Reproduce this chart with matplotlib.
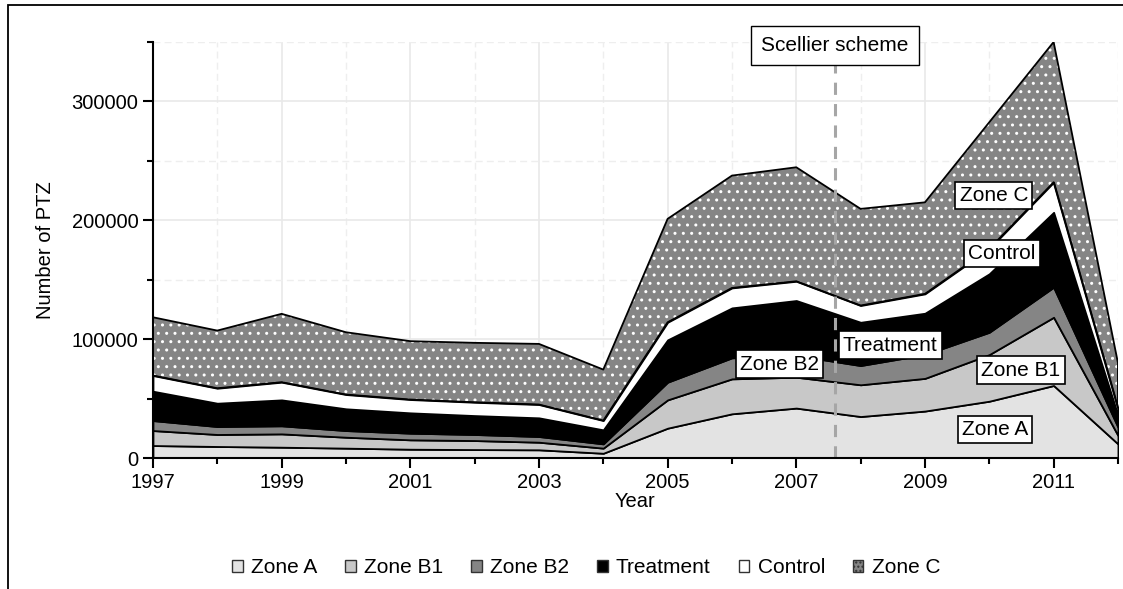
import numpy as np
import matplotlib
matplotlib.use('Agg')
import matplotlib.pyplot as plt
from matplotlib.patches import Patch, Rectangle

plt.rcParams['font.family'] = ['Liberation Sans', 'DejaVu Sans']
plt.rcParams['hatch.color'] = 'white'
plt.rcParams['hatch.linewidth'] = 1.0

# Number of PTZ per zone and year
years = np.arange(1997, 2013)
zone_a = [10500, 9700, 9100, 8300, 7400, 7100, 6900, 4000,
          25100, 37200, 42000, 34900, 39500, 47800, 61000, 11900]
zone_b1 = [12600, 10100, 11200, 9200, 7900, 7600, 6400, 4300,
           23800, 29400, 26000, 26700, 27500, 39200, 57400, 7100]
zone_b2 = [8400, 6700, 6800, 5600, 5600, 5100, 4800, 3600,
           14900, 17700, 18200, 16200, 20000, 18800, 25300, 7000]
treatment = [24700, 19600, 21800, 18300, 17100, 15900, 15700, 11800,
             35600, 42000, 46300, 36400, 34800, 49200, 63000, 10000]
control = [13200, 12600, 14900, 12000, 11200, 11200, 11200, 7800,
           14800, 16800, 16200, 14100, 16300, 21000, 25300, 6000]
zone_c = [49000, 48500, 57500, 52400, 49100, 50000, 51000, 42900,
          87000, 94500, 95900, 81300, 77000, 106500, 118000, 38000]

series_names = ['Zone A', 'Zone B1', 'Zone B2', 'Treatment', 'Control', 'Zone C']
series_colors = ['#e3e3e3', '#c8c8c8', '#858585', 'black', 'white', '#858585']

scellier_year = 2007.6

# in-chart labels: (text, year, value)
area_labels = [('Zone C', 2010.07, 221000), ('Control', 2010.2, 172000),
               ('Treatment', 2008.46, 95000), ('Zone B2', 2006.74, 79000),
               ('Zone B1', 2010.49, 74000), ('Zone A', 2010.09, 24000)]

fig = plt.figure(figsize=(11.23, 5.89), dpi=100)
ax = fig.add_axes([0.1362, 0.2224, 0.8593, 0.7063])

# outer frame
fig.add_artist(Rectangle((8 / 1123, -0.05), 1.2, 1 - 5 / 589 + 0.05,
                         transform=fig.transFigure, fill=False,
                         ec='black', lw=1.3))

data = np.array([zone_a, zone_b1, zone_b2, treatment, control, zone_c])
tops = np.cumsum(data, axis=0)
bottoms = np.vstack([np.zeros(len(years)), tops[:-1]])

for i, name in enumerate(series_names):
    if name == 'Zone C':
        ax.fill_between(years, bottoms[i], tops[i], facecolor=series_colors[i],
                        edgecolor='white', hatch='..', linewidth=0, zorder=2)
        ax.fill_between(years, bottoms[i], tops[i], facecolor='none',
                        edgecolor='black', linewidth=1.3, zorder=3)
    else:
        ax.fill_between(years, bottoms[i], tops[i], facecolor=series_colors[i],
                        edgecolor='black', linewidth=1.3, zorder=3)

ax.vlines(scellier_year, 0, 340000, colors='#a6a6a6', lw=2.2,
          linestyles=(0, (4, 3)), zorder=4)
ax.text(scellier_year, 347000, 'Scellier scheme', ha='center', va='center',
        fontsize=15, zorder=6, clip_on=False,
        bbox=dict(boxstyle='square,pad=0.5', fc='white', ec='black', lw=1))

for txt, x, y in area_labels:
    ax.text(x, y, txt, ha='center', va='center', fontsize=15, zorder=6,
            bbox=dict(boxstyle='square,pad=0.2', fc='white', ec='black', lw=1.2))

ax.set_xlim(1997, 2012)
ax.set_ylim(0, 350000)
ax.set_xticks(range(1997, 2012, 2))
ax.set_xticks(range(1997, 2013), minor=True)
ax.set_yticks([0, 100000, 200000, 300000])
ax.set_yticklabels(['0', '100000', '200000', '300000'])
ax.set_yticks(range(0, 350001, 50000), minor=True)

ax.grid(which='major', color='#e9e9e9', lw=1.2)
ax.grid(which='minor', color='#eeeeee', lw=1.0, ls=(0, (5, 3)))
ax.set_axisbelow(True)

for s in ['top', 'right']:
    ax.spines[s].set_visible(False)
for s in ['left', 'bottom']:
    ax.spines[s].set_linewidth(1.5)
    ax.spines[s].set_zorder(5)
ax.tick_params(which='major', length=7, width=1.5, labelsize=14.5)
ax.tick_params(which='minor', length=4, width=1.5)

ax.set_xlabel('Year', fontsize=14.5, labelpad=0)
ax.set_ylabel('Number of PTZ', fontsize=14.5, labelpad=12)

handles = []
for name, col in zip(series_names, series_colors):
    if name == 'Zone C':
        handles.append(Patch(facecolor=col, edgecolor='#333333', hatch='....',
                             label=name))
    else:
        handles.append(Patch(facecolor=col, edgecolor='#333333', label=name))
fig.legend(handles=handles, loc='center', bbox_to_anchor=(0.522, 0.036),
           ncol=6, frameon=False, fontsize=15, handlelength=0.5,
           handleheight=0.5, handletextpad=0.4, columnspacing=1.35)

fig.savefig('out.png', dpi=100)
